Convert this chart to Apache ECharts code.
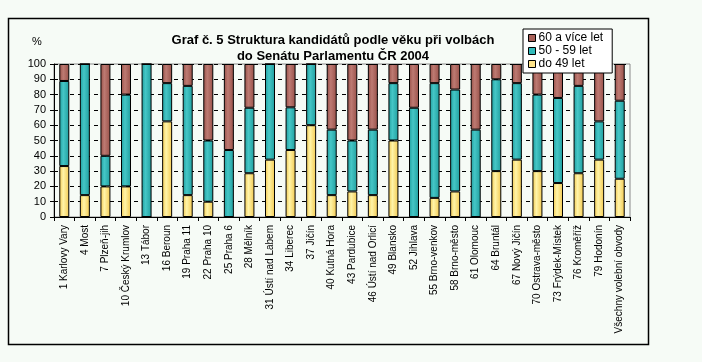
<!DOCTYPE html>
<html>
<head>
<meta charset="utf-8">
<script src="https://cdn.jsdelivr.net/npm/echarts@6/dist/echarts.min.js"></script>
<style>
html,body{margin:0;padding:0;background:#f6fbf6;}
#c{width:702px;height:362px;}
</style>
</head>
<body>
<div id="c"></div>
<script>
var categories = ["1 Karlovy Vary","4 Most","7 Plzeň-jih","10 Český Krumlov","13 Tábor","16 Beroun","19 Praha 11","22 Praha 10","25 Praha 6","28 Mělník","31 Ústí nad Labem","34 Liberec","37 Jičín","40 Kutná Hora","43 Pardubice","46 Ústí nad Orlicí","49 Blansko","52 Jihlava","55 Brno-venkov","58 Brno-město","61 Olomouc","64 Bruntál","67 Nový Jičín","70 Ostrava-město","73 Frýdek-Místek","76 Kroměříž","79 Hodonín","Všechny volební obvody"];
var do49 =   [33.3,14.3,20,20,0,62.5,14.3,10,0,28.6,37.5,43.8,60,14.3,16.7,14.3,50,0,12.5,16.7,0,30,37.5,30,22.2,28.6,37.5,25];
var od50do59=[55.6,85.7,20,60,100,25,71.4,40,43.8,42.8,62.5,27.9,40,42.8,33.3,42.8,37.5,71.4,75,66.6,57.1,60,50,50,55.6,57.1,25,51];
var nad60 =  [11.1,0,60,20,0,12.5,14.3,50,56.2,28.6,0,28.3,0,42.9,50,42.9,12.5,28.6,12.5,16.7,42.9,10,12.5,20,22.2,14.3,37.5,24];
var seriesNames = ["do 49 let","50 - 59 let","60 a více let"];
var yTicks = [0,10,20,30,40,50,60,70,80,90,100];

function grad(edge, mid){
  return new echarts.graphic.LinearGradient(0,0,1,0,[
    {offset:0,color:edge},{offset:0.4,color:mid},{offset:1,color:edge}]);
}
var FONT = "'Liberation Sans',Arial,sans-serif";
var chart = echarts.init(document.getElementById('c'), null, {renderer:'canvas'});
var colors = [grad('#f2c84e','#fff4a8'), grad('#1f9e9e','#45c6c6'), grad('#985048','#bd7a72')];
var legendColors = ['#ffe48a','#33bbbb','#a86058'];
var dataArr = [do49, od50do59, nad60];
chart.setOption({
  animation:false,
  backgroundColor:'#f6fbf6',
  title:{
    text:"Graf č. 5 Struktura kandidátů podle věku při volbách\ndo Senátu Parlamentu ČR 2004",
    left:328, top:27, textAlign:'center',
    textStyle:{fontFamily:FONT,fontSize:13,fontWeight:'bold',color:'#000',lineHeight:16}
  },
  legend:{
    orient:'vertical', left:523, top:29,
    data:[2,1,0].map(function(i){return {name:seriesNames[i],itemStyle:{color:legendColors[i],borderColor:'#000',borderWidth:1}};}),
    backgroundColor:'#ffffff', borderColor:'#000', borderWidth:1,
    padding:[3,9,3,5], itemWidth:7, itemHeight:7, itemGap:1,
    icon:'rect',
    textStyle:{fontFamily:FONT,fontSize:12,color:'#000',padding:[0,0,0,-2]}
  },
  grid:{left:54,right:72,top:64,bottom:145,show:true,borderColor:'#8a8a8a',borderWidth:1,backgroundColor:'#f6fbf6'},
  xAxis:{
    type:'category', data:categories,
    axisLine:{lineStyle:{color:'#000',width:1}},
    axisTick:{show:true,length:4,lineStyle:{color:'#000'}},
    axisLabel:{rotate:90,interval:0,margin:8,fontFamily:FONT,fontSize:10,color:'#000'}
  },
  yAxis:{
    type:'value', min:yTicks[0], max:yTicks[yTicks.length-1], interval:10,
    axisLine:{show:true,lineStyle:{color:'#000',width:1}},
    axisTick:{show:true,length:4,lineStyle:{color:'#000'}},
    axisLabel:{margin:8,fontFamily:FONT,fontSize:11,color:'#000'},
    splitLine:{show:true,lineStyle:{color:'#000',type:[4,4],width:1}}
  },
  graphic:[
    {type:'rect',shape:{x:8.5,y:18.5,width:640,height:326},style:{fill:null,stroke:'#000',lineWidth:1.5},silent:true,z:-1},
    {type:'text',left:32,top:36,style:{text:'%',font:"11px "+FONT,fill:'#000'}}
  ],
  series:[0,1,2].map(function(i){
    return {
      name:seriesNames[i], type:'bar', stack:'a', data:dataArr[i],
      barWidth:10,
      itemStyle:{color:colors[i],borderColor:'#000',borderWidth:1},
      emphasis:{disabled:true}
    };
  })
});
</script>
</body>
</html>
